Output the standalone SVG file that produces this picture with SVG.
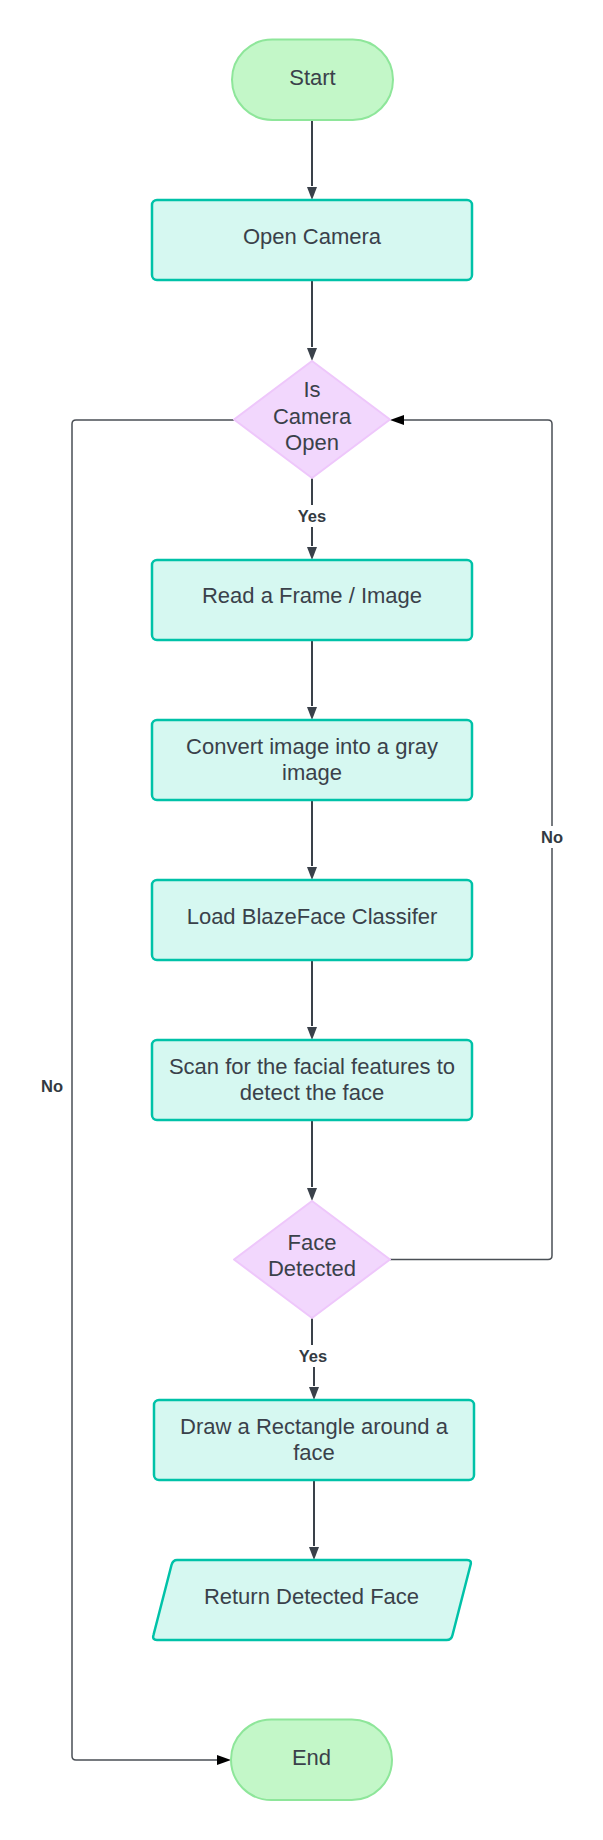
<svg xmlns="http://www.w3.org/2000/svg" width="603" height="1840" viewBox="0 0 603 1840">
<defs>
<style>
.term{fill:#c3f7c8;stroke:#8ee69a;stroke-width:2}
.proc{fill:#d6f8f1;stroke:#00c2a8;stroke-width:2.5}
.dec{fill:#f2d7fd;stroke:#eec7fb;stroke-width:2;stroke-linejoin:round}
.t{font-family:"Liberation Sans",Arial,sans-serif;font-size:22px;fill:#3a414a;text-anchor:middle}
.lbl{font-family:"Liberation Sans",Arial,sans-serif;font-size:16.5px;font-weight:bold;fill:#333a42;text-anchor:middle}
.c{fill:none;stroke:#3a414a;stroke-width:2}
.loop{fill:none;stroke:#4a4f55;stroke-width:1.5}
</style>
<marker id="ad" markerWidth="10" markerHeight="14" refX="5" refY="13" orient="auto-start-reverse" markerUnits="userSpaceOnUse" viewBox="0 0 10 14">
<path d="M0,0 L10,0 L5,14 Z" fill="#3a414a"/>
</marker>
<marker id="ah" markerWidth="14" markerHeight="10" refX="14" refY="5" orient="auto" markerUnits="userSpaceOnUse" viewBox="0 0 14 10">
<path d="M0,0 L14,5 L0,10 Z" fill="#000"/>
</marker>
</defs>
<rect width="603" height="1840" fill="#fff"/>
<g id="connectors">
<path class="c" d="M312,120 V186"/>
<path d="M307,187 L317,187 L312,200 Z" fill="#3a414a"/>
<path class="c" d="M312,280 V347"/>
<path d="M307,348 L317,348 L312,361 Z" fill="#3a414a"/>
<path class="c" d="M312,478 V546"/>
<path d="M307,547 L317,547 L312,560 Z" fill="#3a414a"/>
<path class="c" d="M312,640 V706"/>
<path d="M307,707 L317,707 L312,720 Z" fill="#3a414a"/>
<path class="c" d="M312,800 V866"/>
<path d="M307,867 L317,867 L312,880 Z" fill="#3a414a"/>
<path class="c" d="M312,960 V1026"/>
<path d="M307,1027 L317,1027 L312,1040 Z" fill="#3a414a"/>
<path class="c" d="M312,1120 V1187"/>
<path d="M307,1188 L317,1188 L312,1201 Z" fill="#3a414a"/>
<path class="c" d="M312,1318 V1357 H314 V1386"/>
<path d="M309,1387 L319,1387 L314,1400 Z" fill="#3a414a"/>
<path class="c" d="M314,1480 V1546"/>
<path d="M309,1547 L319,1547 L314,1560 Z" fill="#3a414a"/>
<path class="loop" d="M234,420 H76 Q72,420 72,424 V1756 Q72,1760 76,1760 H218"/>
<path d="M217,1755 L231,1760 L217,1765 Z" fill="#000"/>
<path class="loop" d="M390,1259.5 H548 Q552,1259.5 552,1255.5 V424 Q552,420 548,420 H403"/>
<path d="M404,415 L390,420 L404,425 Z" fill="#000"/>
<rect x="294" y="505" width="36" height="22" fill="#fff"/>
<text class="lbl" x="312" y="522">Yes</text>
<rect x="295" y="1345" width="36" height="22" fill="#fff"/>
<text class="lbl" x="313" y="1362">Yes</text>
<rect x="537" y="826" width="30" height="22" fill="#fff"/>
<text class="lbl" x="552" y="843">No</text>
<text class="lbl" x="52" y="1092">No</text>
</g>
<g id="start">
<rect class="term" x="232" y="39.5" width="161" height="80.5" rx="40.25"/>
<text class="t" x="312.5" y="85">Start</text>
</g>
<g id="open-camera">
<rect class="proc" x="152" y="200" width="320" height="80" rx="5"/>
<text class="t" x="312" y="244">Open Camera</text>
</g>
<g id="is-camera-open">
<polygon class="dec" points="312,361 390,419.5 312,478 234,419.5"/>
<text class="t" x="312" y="397">Is</text>
<text class="t" x="312" y="423.5">Camera</text>
<text class="t" x="312" y="449.5">Open</text>
</g>
<g id="read-frame">
<rect class="proc" x="152" y="560" width="320" height="80" rx="5"/>
<text class="t" x="312" y="603">Read a Frame / Image</text>
</g>
<g id="convert-gray">
<rect class="proc" x="152" y="720" width="320" height="80" rx="5"/>
<text class="t" x="312" y="753.5">Convert image into a gray</text>
<text class="t" x="312" y="779.5">image</text>
</g>
<g id="load-classifier">
<rect class="proc" x="152" y="880" width="320" height="80" rx="5"/>
<text class="t" x="312" y="923.5">Load BlazeFace Classifer</text>
</g>
<g id="scan-features">
<rect class="proc" x="152" y="1040" width="320" height="80" rx="5"/>
<text class="t" x="312" y="1073.5">Scan for the facial features to</text>
<text class="t" x="312" y="1099.5">detect the face</text>
</g>
<g id="face-detected">
<polygon class="dec" points="312,1201 390,1259.5 312,1318 234,1259.5"/>
<text class="t" x="312" y="1250">Face</text>
<text class="t" x="312" y="1276">Detected</text>
</g>
<g id="draw-rectangle">
<rect class="proc" x="154" y="1400" width="320" height="80" rx="5"/>
<text class="t" x="314" y="1433.5">Draw a Rectangle around a</text>
<text class="t" x="314" y="1459.5">face</text>
</g>
<g id="return-face">
<path class="proc" d="M177,1560 H467 Q472,1560 470.5,1565 L452.5,1635 Q451.5,1640 446.5,1640 H157 Q152,1640 153.5,1635 L171.5,1565 Q173,1560 177,1560 Z"/>
<text class="t" x="311.5" y="1604">Return Detected Face</text>
</g>
<g id="end">
<rect class="term" x="231" y="1719.5" width="161" height="80.5" rx="40.25"/>
<text class="t" x="311.5" y="1765">End</text>
</g>
</svg>
